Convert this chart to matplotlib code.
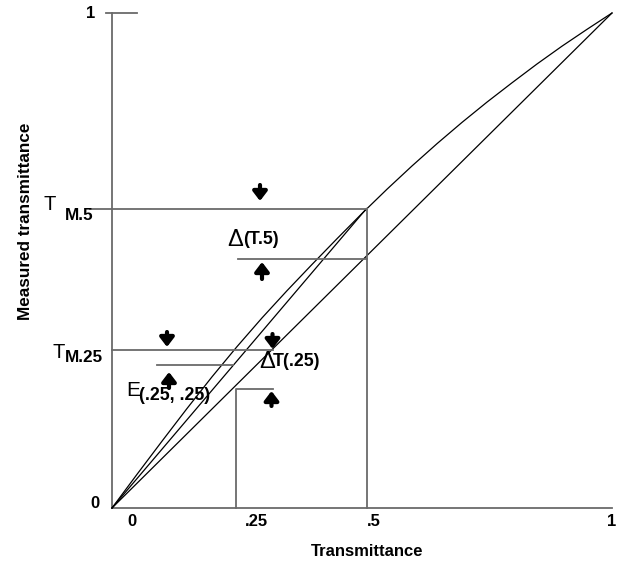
import matplotlib
matplotlib.use("Agg")
import matplotlib.pyplot as plt

# ---- data ----
true_T = [0, 0.05, 0.1, 0.15, 0.2, 0.25, 0.3, 0.35, 0.4, 0.45, 0.5,
          0.55, 0.6, 0.65, 0.7, 0.75, 0.8, 0.85, 0.9, 0.95, 1.0]
measured_T = [0, 0.068, 0.135, 0.201, 0.265, 0.326, 0.384, 0.439, 0.492, 0.544, 0.595,
              0.644, 0.691, 0.736, 0.779, 0.820, 0.859, 0.897, 0.933, 0.967, 1.0]
linear_T = [0, 0.509]
linear_M = [0, 0.605]
ideal_T = [0, 1.0]
ideal_M = [0, 1.0]

T_half = 0.509
TM_half = 0.605
T_ideal_half = 0.504
T_quarter = 0.248
TM_quarter = 0.319
T_ideal_quarter = 0.240
E_level = 0.289

x_tick_lab = ["0", ".25", ".5", "1"]

plt.rcParams['font.family'] = ['Liberation Sans', 'DejaVu Sans']

fig = plt.figure(figsize=(6.18, 5.67), dpi=100)
ax = fig.add_axes([112/618, (567-508)/567, 500/618, 495/567])
ax.set_xlim(0, 1)
ax.set_ylim(0, 1)
ax.axis('off')

G = '#6a6a6a'
glw = 1.3

# axes
ax.plot([0, 0], [0, 1], color=G, lw=glw, clip_on=False)
ax.plot([0, 1], [0, 0], color=G, lw=glw, clip_on=False)
ax.plot([-0.012, 0.05], [1, 1], color=G, lw=glw, clip_on=False)

# curves
ax.plot(true_T, measured_T, color='black', lw=0.9, clip_on=False)
ax.plot(linear_T, linear_M, color='black', lw=0.9, clip_on=False)
ax.plot(ideal_T, ideal_M, color='black', lw=0.9, clip_on=False)

# construction lines
ax.plot([-0.044, T_half], [TM_half, TM_half], color=G, lw=glw, clip_on=False)
ax.plot([T_half, T_half], [0, TM_half], color=G, lw=glw, clip_on=False)
ax.plot([0.252, T_half], [T_ideal_half, T_ideal_half], color=G, lw=glw, clip_on=False)
ax.plot([0, 0.322], [TM_quarter, TM_quarter], color=G, lw=glw, clip_on=False)
ax.plot([0.09, 0.242], [E_level, E_level], color=G, lw=glw, clip_on=False)
ax.plot([T_quarter, T_quarter, 0.322], [0, T_ideal_quarter, T_ideal_quarter],
        color=G, lw=glw, clip_on=False)

def px(x, y):
    return ((x - 112) / 500, (508 - y) / 495)

def arrow(x, y_tail, y_tip):
    ax.annotate('', xy=px(x, y_tip), xytext=px(x, y_tail),
                arrowprops=dict(arrowstyle='-|>,head_width=0.42,head_length=0.55',
                                lw=3.0, color='black', shrinkA=0, shrinkB=0),
                annotation_clip=False)

arrow(260, 185, 201)
arrow(262, 279, 262)
arrow(167, 332, 347)
arrow(169, 388, 372)
arrow(272.5, 334, 349)
arrow(271.5, 406, 391)

fs = 12
bold = dict(fontweight='bold', fontsize=fs)

# y tick labels
ax.text(*px(91, 13), "1", ha='center', va='center', **bold)
ax.text(*px(95, 503), "0", ha='center', va='center', **bold)

# x tick labels
for xp, lab in zip([132, 256, 374, 612], x_tick_lab):
    ax.text(*px(xp, 521), lab, ha='center', va='center', **bold)

ax.text(*px(367, 551), "Transmittance", ha='center', va='center', **bold)
ax.text(*px(25, 221), "Measured transmittance", ha='center', va='center',
        rotation=90, fontweight='bold', fontsize=12.3)

# T_M labels
ax.text(*px(50, 205), "T", ha='center', va='center', fontsize=14.5)
ax.text(*px(65, 215), "M.5", ha='left', va='center', fontweight='bold', fontsize=12.3)
ax.text(*px(58.5, 352), "T", ha='center', va='center', fontsize=14.5)
ax.text(*px(65, 357.5), "M.25", ha='left', va='center', fontweight='bold', fontsize=12.3)

# Delta labels
ax.text(*px(227, 240), "Δ", ha='left', va='center', fontsize=17)
ax.text(*px(243, 240), "(T.5)", ha='left', va='center', fontweight='bold', fontsize=12.8)
ax.text(*px(259, 362), "Δ", ha='left', va='center', fontsize=17)
ax.text(*px(273, 362), "T(.25)", ha='left', va='center', fontweight='bold', fontsize=12.8)

# E label
ax.text(*px(126, 390), "E", ha='left', va='center', fontsize=15)
ax.text(*px(139, 395), "(.25, .25)", ha='left', va='center', fontweight='bold', fontsize=12.8)

fig.savefig("out.png", dpi=100)
